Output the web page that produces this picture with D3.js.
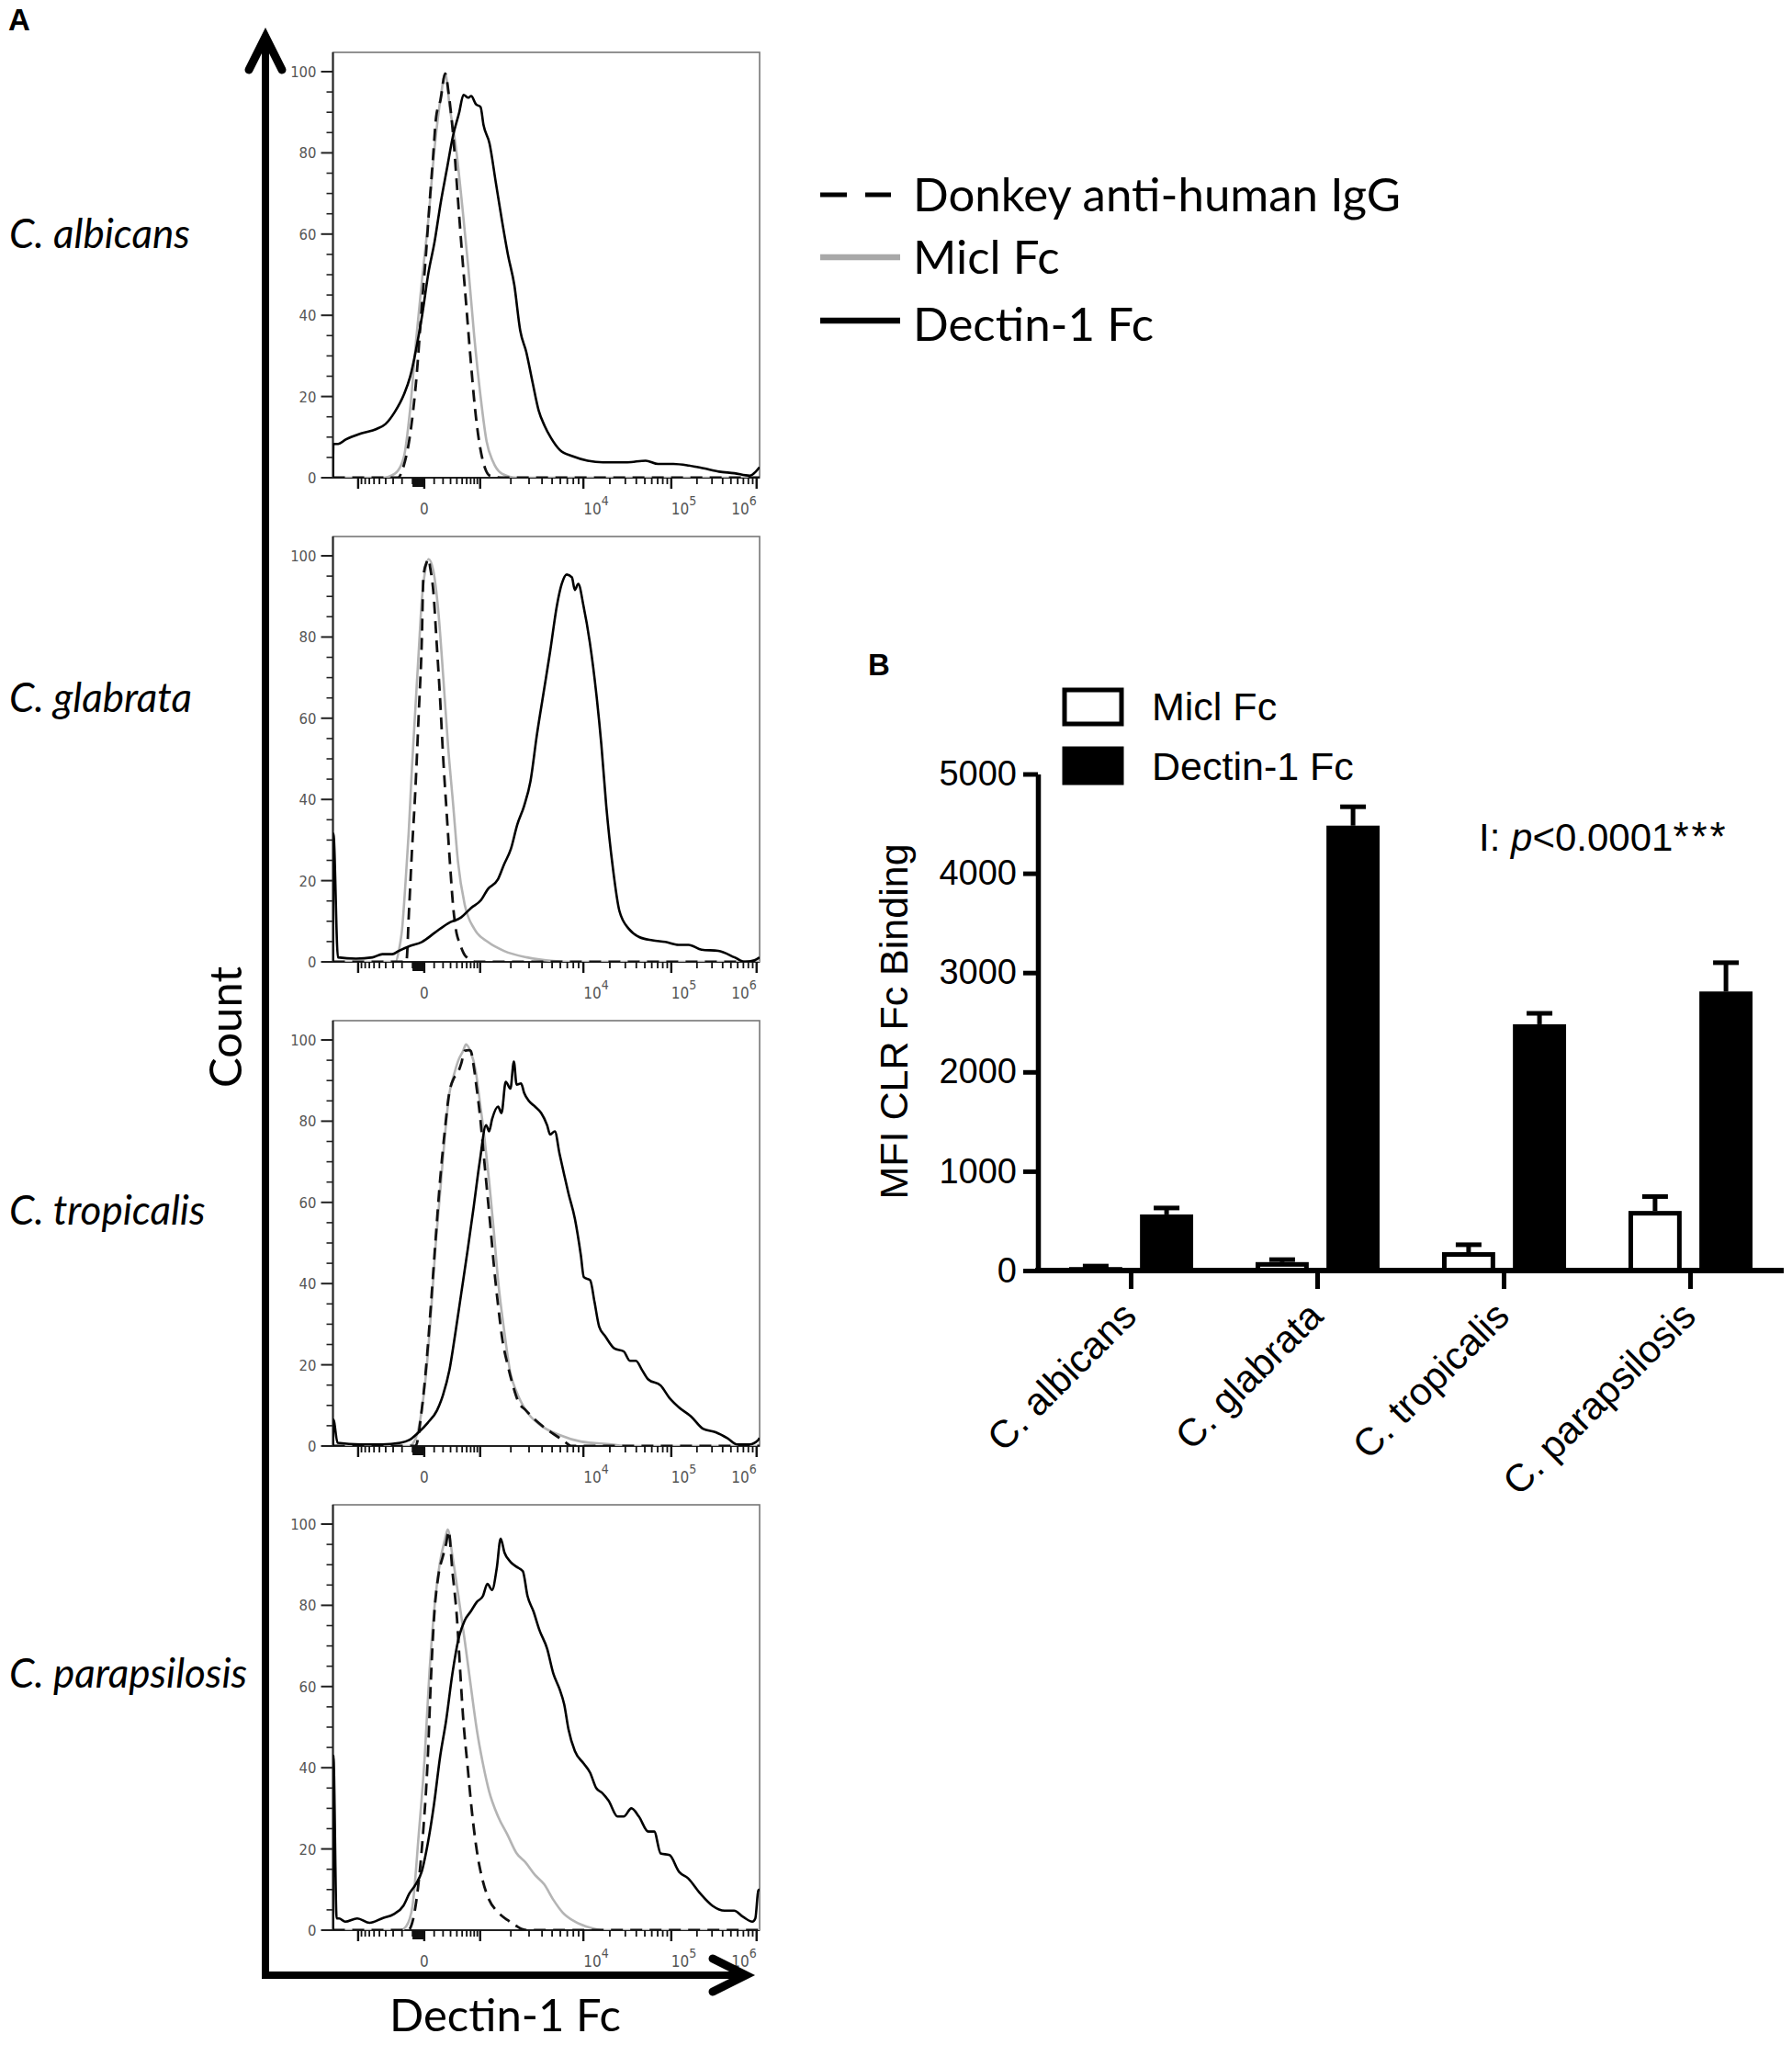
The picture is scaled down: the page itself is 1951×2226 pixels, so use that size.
<!DOCTYPE html>
<html>
<head>
<meta charset="utf-8">
<script src="https://cdn.jsdelivr.net/npm/d3@7"></script>
<style>
  body { margin: 0; background: #fff; }
  svg { display: block; }
</style>
</head>
<body>
<svg id="fig"></svg>
<script>
// ---------- data ----------
var species = ["C. albicans", "C. glabrata", "C. tropicalis", "C. parapsilosis"];

// panel A: histograms, x in logicle channels (0-1000 across the axis), y in % of max
var albicansDonkey = [[0,0],[152,0],[166,3],[180,10],[196,25],[208,42],[218,55],[226,67],[234,78],[242,89],[252,93],[263,99.5],[272,94],[282,84],[292,70],[302,56],[312,43],[322,30],[333,17],[344,8],[356,2.5],[368,0.5],[400,0],[1000,0]];
var albicansMicl = [[0,0],[116,0],[145,1],[166,5],[181,17],[195,34],[209,49],[224,64],[238,81],[253,94],[263,99.6],[274,91],[288,81.5],[303,67],[317,52],[331,35],[346,20],[360,9],[375,4],[396,1],[432,0],[1000,0]];
var albicansDectin = [[0,0],[1,8.3],[12,8.3],[30,9.4],[66,10.9],[102,12],[123,13.2],[145,16.2],[166,20.4],[181,24.9],[195,31.7],[209,40],[224,50.6],[238,58],[253,68],[267,76],[281,84],[296,90],[306,94.3],[317,93.6],[324,94],[335,92],[346,91.3],[353,86.8],[367,82.3],[382,72.5],[396,63.4],[410,55],[425,47.5],[439,36.2],[453,31],[468,23.4],[482,16.6],[496,12.8],[511,9.8],[532,6.8],[561,5.3],[597,4.2],[633,3.8],[690,3.8],[733,4.2],[762,3.4],[798,3.4],[834,3],[869,2.3],[905,1.5],[941,1.1],[977,0.5],[991,1.5],[1000,2.6]];

var glabrataDonkey = [[0,0],[172,0],[178,12],[185,27],[193,42],[201,61],[208.5,80],[212,95],[220,98.5],[224,99.2],[228,97],[235.5,91],[243,78.7],[251,65],[258.6,49.8],[266,37.6],[274,24.7],[282,13.3],[289.5,7.2],[297,4.6],[310,1.5],[336,0],[1000,0]];
var glabrataMicl = [[0,0],[146.7,0],[154.4,2.7],[162,8],[170,19.4],[177.6,32],[185,47.5],[193,62],[201,76.4],[208.5,89.4],[216,96.2],[224,99.2],[235.5,96.2],[247,86.3],[258.6,70],[270,52.9],[282,38.4],[293,24.7],[309,14],[332,8],[363,4.9],[401,2.7],[455,1.1],[517,0.2],[556,0],[1000,0]];
var glabrataDectin = [[0,0],[1,31.6],[11.7,1.1],[54,0.8],[92.7,1.1],[116,1.9],[139,1.9],[154,2.7],[177.6,3.8],[208.5,4.9],[239,7.2],[270,9.5],[301,11],[324,13.3],[347,15.2],[363,17.9],[386,20.2],[401,24],[417,27.8],[432,33.8],[448,38.4],[463,44.5],[478,55.9],[494,66.5],[509,76.4],[525,87.8],[536,93],[548,95.4],[560,94.7],[567,91.6],[575,93.1],[587,87.8],[602,78.7],[617.5,65.8],[629,53.6],[640.6,38.4],[656,23.2],[671.5,12.5],[694.6,8],[718,6.1],[748.6,5.3],[779,4.9],[810,4.2],[833.5,4.2],[864,3],[903,2.7],[941.6,1.1],[965,0],[988,0.4],[1000,1.1]];

var tropicalisDonkey = [[0,0],[193.7,0],[208,8.8],[219,20.2],[229.6,34.7],[240,50],[251,65.3],[262,77.5],[272,86.6],[283,90.5],[293,92],[301,94.3],[308.5,97.3],[319,97.5],[323,97.3],[330,93.5],[337,88],[344,82],[351,74.4],[359,65.3],[370,53],[377,44.7],[387,34.7],[398,25.6],[409,20.2],[420,15.6],[434,11],[452,8.8],[473.5,6.5],[495,4.6],[516.5,3],[538,1.5],[560,0],[1000,0]];
var tropicalisMicl = [[0,0],[179,0],[194,1.9],[208,8.8],[219,18.7],[229.6,32.4],[240,48.5],[251,62.2],[262,76],[272.6,86.6],[283,91.2],[294,95],[305,97.3],[312,98.9],[323,97],[334,92.7],[344,85],[355,76],[366,65.3],[377,53],[387,40.8],[402,27.9],[416,17.9],[430,13.4],[452,8.8],[488,5],[531,2.7],[581,1.1],[653,0.4],[689,0],[1000,0]];
var tropicalisDectin = [[0,0],[1,6.5],[10.8,0.8],[64.6,0.4],[115,0.4],[158,0.8],[179,1.5],[201,3.4],[222,5.7],[244,8.8],[258,12.6],[273,18.7],[287,27.9],[301,37.8],[316,48.5],[330,59],[344,70],[359,79],[366,77.5],[373,80.5],[387,83.6],[395,82],[405,89.7],[416,88],[424,94.7],[430.5,89],[441,89.3],[448,87],[459,85],[473.5,83.6],[488,82],[502,79],[509,76.7],[520,77.5],[531,72],[542,66.8],[552,62.2],[567,56],[581,47],[588,41.6],[603,40.8],[613,35.5],[624,29.4],[638.5,27],[660,24],[681.5,23.3],[696,21],[710,21],[724.6,18.7],[739,16.4],[768,14.9],[789,11.8],[811,9.5],[839,7.3],[868,4.2],[897,3.4],[925,1.9],[947,0.4],[976,0.4],[997,1.5],[1000,2]];

var parapsilosisDonkey = [[0,0],[176,0],[186.5,2.1],[201,12],[212,25],[222,41.8],[229.6,61.7],[237,77],[247.5,87.6],[258,92.2],[265.5,95.3],[271,98.3],[280,88.4],[290.5,77],[297.7,64.7],[305,52.5],[315.6,40.3],[326,28.9],[337,19.7],[351.5,12],[366,7.5],[387,4.4],[409,2.5],[430,1],[445,0.2],[460,0],[1000,0]];
var parapsilosisMicl = [[0,0],[158,0],[172,1],[186.5,6],[201,23.5],[215,42.6],[226,63.2],[237,78.5],[251,90.7],[262,96],[269,98.7],[280,92.2],[294,82.3],[308.5,71.6],[323,60.2],[337,49.5],[351.5,41],[366,34.2],[387,28],[409,23.5],[430,19],[452,16.6],[473.5,13.6],[495,11.3],[516.5,7.5],[538,4.4],[567,2.1],[602.6,0.6],[631,0],[1000,0]];
var parapsilosisDectin = [[0,0],[1,43],[8.6,2.9],[14.3,2.9],[28.7,2.1],[57,2.9],[86,1.8],[115,2.9],[143.5,4],[165,6],[179,9],[194,11.3],[208,14.4],[222,21.2],[237,31.1],[251,42.6],[265.5,51.8],[280,63.2],[294,71.6],[308.5,76.2],[323,78.5],[337,80.8],[351.5,82.3],[362,85.3],[373,83.8],[384,89.2],[393,96.4],[402,93],[416,90.7],[430,89.5],[445,88.4],[456,82.3],[470,78.5],[484,73.9],[502,69.3],[516.5,63.2],[531,59.4],[542,55.6],[552,49.5],[567,44.1],[588,41],[602.6,38.8],[617,35],[631,33.8],[646,31.9],[667,28],[681.5,28],[699.5,30],[717,28],[739,24.3],[753,24.3],[768,18.9],[789,18.5],[811,14.4],[832,12.8],[861,9],[889.6,6],[918,4.8],[940,4.8],[961,3.3],[983,2.1],[990,2.9],[997,9.8],[1000,10]];

var countTicks = [0, 20, 40, 60, 80, 100];
// logicle axis calibration: fluorescence value -> channel
var calibValues = [-1000, 0, 1000, 1e4, 1e5, 1e6];
var calibChannels = [59, 214, 345, 587, 793, 993];
var fluorLabels = [{v: 0, base: "0", sup: ""}, {v: 1e4, base: "10", sup: "4"}, {v: 1e5, base: "10", sup: "5"}, {v: 1e6, base: "10", sup: "6"}];
var histSeries = ["Donkey anti-human IgG", "Micl Fc", "Dectin-1 Fc"];

// panel B: MFI of CLR-Fc binding (mean, SEM)
var barSeries = ["Micl Fc", "Dectin-1 Fc"];
var miclMean = [35, 85, 185, 600];
var miclSem = [10, 25, 75, 145];
var dectinMean = [565, 4480, 2480, 2810];
var dectinSem = [65, 190, 110, 290];
var mfiTicks = [0, 1000, 2000, 3000, 4000, 5000];

// ---------- setup ----------
var W = 1951, H = 2226;
var svg = d3.select("#fig").attr("width", W).attr("height", H);
var sansA = "Lato, 'Open Sans', sans-serif";
var sansB = "'Liberation Sans', Arial, sans-serif";
var tickFont = "'DejaVu Sans Condensed', 'DejaVu Sans', sans-serif";

var hists = [
  [albicansDonkey, albicansMicl, albicansDectin],
  [glabrataDonkey, glabrataMicl, glabrataDectin],
  [tropicalisDonkey, tropicalisMicl, tropicalisDectin],
  [parapsilosisDonkey, parapsilosisMicl, parapsilosisDectin]
];
var histStyle = [
  {stroke: "#111", width: 2.8, dash: "13,8"},
  {stroke: "#b4b4b4", width: 2.6, dash: null},
  {stroke: "#000", width: 2.6, dash: null}
];

// ---------- panel A ----------
var boxL = 362.5, boxR = 827, boxH = 463;
var labelOffsets = [213, 191, 222, 199];
var x = d3.scaleLinear().domain([0, 1000]).range([boxL, boxR]);
var asinhK = 277;
var chOf = d3.scaleLinear()
  .domain(calibValues.map(function(v) { return Math.asinh(v / asinhK); }))
  .range(calibChannels);
function xPos(v) { return x(chOf(Math.asinh(v / asinhK))); }

var minorVals = [].concat(d3.range(-900, 0, 100), d3.range(-90, 0, 10), d3.range(100, 1000, 100),
  d3.range(2e3, 1e4, 1e3), d3.range(2e4, 1e5, 1e4), d3.range(2e5, 1e6, 1e5));
var yMinor = d3.range(5, 100, 5).filter(function(d) { return d % 20 !== 0; });

svg.append("text").attr("x", 9).attr("y", 33)
  .attr("font-family", sansB).attr("font-weight", "bold").attr("font-size", 33).text("A");

species.forEach(function(name, i) {
  var top = 57 + i * 527;
  var y = d3.scaleLinear().domain([0, 100]).range([top + boxH, top + 21]);
  var g = svg.append("g");

  g.append("clipPath").attr("id", "clip" + i)
    .append("rect").attr("x", boxL).attr("y", top).attr("width", boxR - boxL).attr("height", boxH);

  g.append("rect").attr("x", boxL).attr("y", top).attr("width", boxR - boxL).attr("height", boxH)
    .attr("fill", "none").attr("stroke", "#777").attr("stroke-width", 1.6);
  g.append("line").attr("x1", boxL).attr("x2", boxL).attr("y1", top).attr("y2", top + boxH + 1)
    .attr("stroke", "#222").attr("stroke-width", 2);
  g.append("line").attr("x1", boxL).attr("x2", boxR).attr("y1", top + boxH).attr("y2", top + boxH)
    .attr("stroke", "#222").attr("stroke-width", 2);

  // y ticks
  g.selectAll(".ymaj").data(countTicks).enter().append("line")
    .attr("x1", boxL - 13).attr("x2", boxL).attr("y1", function(d) { return y(d); }).attr("y2", function(d) { return y(d); })
    .attr("stroke", "#222").attr("stroke-width", 2);
  g.selectAll(".ymin").data(yMinor).enter().append("line")
    .attr("x1", boxL - 7).attr("x2", boxL).attr("y1", function(d) { return y(d); }).attr("y2", function(d) { return y(d); })
    .attr("stroke", "#222").attr("stroke-width", 1.6);
  g.selectAll(".ylab").data(countTicks).enter().append("text")
    .attr("x", boxL - 18).attr("y", function(d) { return y(d); }).attr("dy", "0.36em")
    .attr("text-anchor", "end").attr("font-family", tickFont).attr("font-size", 16.5).attr("fill", "#555")
    .text(function(d) { return d; });

  // x ticks (logicle)
  var base = top + boxH;
  g.selectAll(".xmaj").data(calibValues).enter().append("line")
    .attr("x1", function(d) { return xPos(d); }).attr("x2", function(d) { return xPos(d); })
    .attr("y1", base).attr("y2", base + 12).attr("stroke", "#111").attr("stroke-width", 2.4);
  g.selectAll(".xmin").data(minorVals).enter().append("line")
    .attr("x1", function(d) { return xPos(d); }).attr("x2", function(d) { return xPos(d); })
    .attr("y1", base).attr("y2", function(d) { return Math.abs(d) < 100 ? base + 10 : base + 7; })
    .attr("stroke", "#111").attr("stroke-width", function(d) { return Math.abs(d) < 100 ? 2.6 : 1.8; });
  var xl = g.selectAll(".xlab").data(fluorLabels).enter().append("text")
    .attr("x", function(d) { return xPos(d.v); }).attr("y", base + 40)
    .attr("text-anchor", function(d) { return d.v === 0 ? "middle" : (d.v === 1e6 ? "end" : "start"); })
    .attr("font-family", tickFont).attr("font-size", 17).attr("fill", "#555");
  xl.append("tspan").text(function(d) { return d.base; });
  xl.filter(function(d) { return d.sup !== ""; })
    .append("tspan").attr("dy", -10).attr("font-size", 14).text(function(d) { return d.sup; });

  // curves
  var line = d3.line().x(function(d) { return x(d[0]); }).y(function(d) { return y(d[1]); })
    .curve(d3.curveMonotoneX);
  var cg = g.append("g").attr("clip-path", "url(#clip" + i + ")");
  [1, 0, 2].forEach(function(k) {
    cg.append("path").datum(hists[i][k]).attr("d", line)
      .attr("fill", "none").attr("stroke", histStyle[k].stroke).attr("stroke-width", histStyle[k].width)
      .attr("stroke-dasharray", histStyle[k].dash).attr("stroke-linejoin", "round");
  });

  // species label
  svg.append("text").attr("x", 10).attr("y", top + labelOffsets[i])
    .attr("font-family", sansA).attr("font-style", "italic").attr("font-size", 44).text(name);
});

// big Count / Dectin-1 Fc arrows
var ax = 289, ay = 2150;
svg.append("path").attr("d", "M" + ax + ",44V" + ay + "H808")
  .attr("fill", "none").attr("stroke", "#000").attr("stroke-width", 8).attr("stroke-linejoin", "miter");
svg.append("path").attr("d", "M" + (ax - 18) + ",76L" + ax + ",40L" + (ax + 18) + ",76")
  .attr("fill", "none").attr("stroke", "#000").attr("stroke-width", 9).attr("stroke-linecap", "round");
svg.append("path").attr("d", "M776," + (ay - 18) + "L812," + ay + "L776," + (ay + 18))
  .attr("fill", "none").attr("stroke", "#000").attr("stroke-width", 9).attr("stroke-linecap", "round");
svg.append("text").attr("transform", "translate(263,1118) rotate(-90)").attr("text-anchor", "middle")
  .attr("font-family", sansA).attr("font-size", 49).text("Count");
svg.append("text").attr("x", 550).attr("y", 2211).attr("text-anchor", "middle")
  .attr("font-family", sansA).attr("font-size", 49).text("Dectin-1 Fc");

// legend A
var legA = svg.append("g");
var legAy = [212, 280, 349];
histSeries.forEach(function(name, k) {
  legA.append("line").attr("x1", 893).attr("x2", k === 0 ? 970 : 980).attr("y1", legAy[k]).attr("y2", legAy[k])
    .attr("stroke", k === 1 ? "#a8a8a8" : "#000").attr("stroke-width", k === 0 ? 5 : 6.5)
    .attr("stroke-dasharray", k === 0 ? "29,20" : null);
  legA.append("text").attr("x", 994).attr("y", legAy[k] + 18 + (k === 2 ? 4 : 0))
    .attr("font-family", sansA).attr("font-size", 51).text(name);
});

// ---------- panel B ----------
svg.append("text").attr("x", 945).attr("y", 735)
  .attr("font-family", sansB).attr("font-weight", "bold").attr("font-size", 33).text("B");

var x0 = d3.scaleBand().domain(species).range([1130, 1942]);
var x1 = d3.scaleBand().domain(barSeries).range([0, x0.bandwidth()]).paddingInner(0.25).paddingOuter(0.44);
var yB = d3.scaleLinear().domain([0, 5000]).range([1383, 842.5]);

var barData = [];
species.forEach(function(sp, i) {
  barData.push({sp: sp, s: barSeries[0], v: miclMean[i], e: miclSem[i]});
  barData.push({sp: sp, s: barSeries[1], v: dectinMean[i], e: dectinSem[i]});
});
var gB = svg.append("g");
function bx(d) { return x0(d.sp) + x1(d.s); }

// error bars (upper only)
gB.selectAll(".err").data(barData).enter().append("line")
  .attr("x1", function(d) { return bx(d) + x1.bandwidth() / 2; }).attr("x2", function(d) { return bx(d) + x1.bandwidth() / 2; })
  .attr("y1", function(d) { return yB(d.v); }).attr("y2", function(d) { return yB(d.v + d.e); })
  .attr("stroke", "#000").attr("stroke-width", 5);
gB.selectAll(".cap").data(barData).enter().append("line")
  .attr("x1", function(d) { return bx(d) + x1.bandwidth() / 2 - 14; }).attr("x2", function(d) { return bx(d) + x1.bandwidth() / 2 + 14; })
  .attr("y1", function(d) { return yB(d.v + d.e); }).attr("y2", function(d) { return yB(d.v + d.e); })
  .attr("stroke", "#000").attr("stroke-width", 5);

gB.selectAll(".bar").data(barData).enter().append("rect")
  .attr("x", function(d) { return bx(d) + 2.5; }).attr("width", x1.bandwidth() - 5)
  .attr("y", function(d) { return yB(d.v) + 2.5; })
  .attr("height", function(d) { return Math.max(0, yB(0) - yB(d.v) - 2.5); })
  .attr("fill", function(d) { return d.s === barSeries[0] ? "#fff" : "#000"; })
  .attr("stroke", "#000").attr("stroke-width", 5);

// axes
var yAxis = gB.append("g").attr("transform", "translate(1130,0)")
  .call(d3.axisLeft(yB).tickValues(mfiTicks).tickFormat(d3.format("d")).tickSize(16).tickSizeOuter(0).tickPadding(7));
yAxis.select(".domain").attr("stroke-width", 5.5);
yAxis.selectAll(".tick line").attr("stroke-width", 5);
yAxis.selectAll("text").attr("font-family", sansB).attr("font-size", 38).attr("fill", "#000");

var xAxis = gB.append("g").attr("transform", "translate(0,1383)")
  .call(d3.axisBottom(x0).tickSize(20).tickSizeOuter(0).tickPadding(0));
xAxis.select(".domain").attr("stroke-width", 6).attr("d", "M1127,0H1942");
xAxis.selectAll(".tick line").attr("stroke-width", 5);
xAxis.selectAll("text").attr("y", null).attr("dy", null)
  .attr("transform", "translate(8,52) rotate(-45)").attr("text-anchor", "end")
  .attr("font-family", sansB).attr("font-size", 42).attr("fill", "#000");

svg.append("text").attr("transform", "translate(988,1112) rotate(-90)").attr("text-anchor", "middle")
  .attr("font-family", sansB).attr("font-size", 43).text("MFI CLR Fc Binding");

var ann = svg.append("text").attr("x", 1610).attr("y", 926)
  .attr("font-family", sansB).attr("font-size", 42);
ann.append("tspan").text("I: ");
ann.append("tspan").attr("font-style", "italic").text("p");
ann.append("tspan").text("<0.0001");
ann.append("tspan").attr("letter-spacing", 3).attr("font-size", 44).text("***");

// legend B
var legB = svg.append("g");
barSeries.forEach(function(name, k) {
  legB.append("rect").attr("x", 1159).attr("y", 751 + k * 64).attr("width", 62).attr("height", 37)
    .attr("fill", k === 0 ? "#fff" : "#000").attr("stroke", "#000").attr("stroke-width", 5);
  legB.append("text").attr("x", 1254).attr("y", 784 + k * 65)
    .attr("font-family", sansB).attr("font-size", 43).text(name);
});
</script>
</body>
</html>
